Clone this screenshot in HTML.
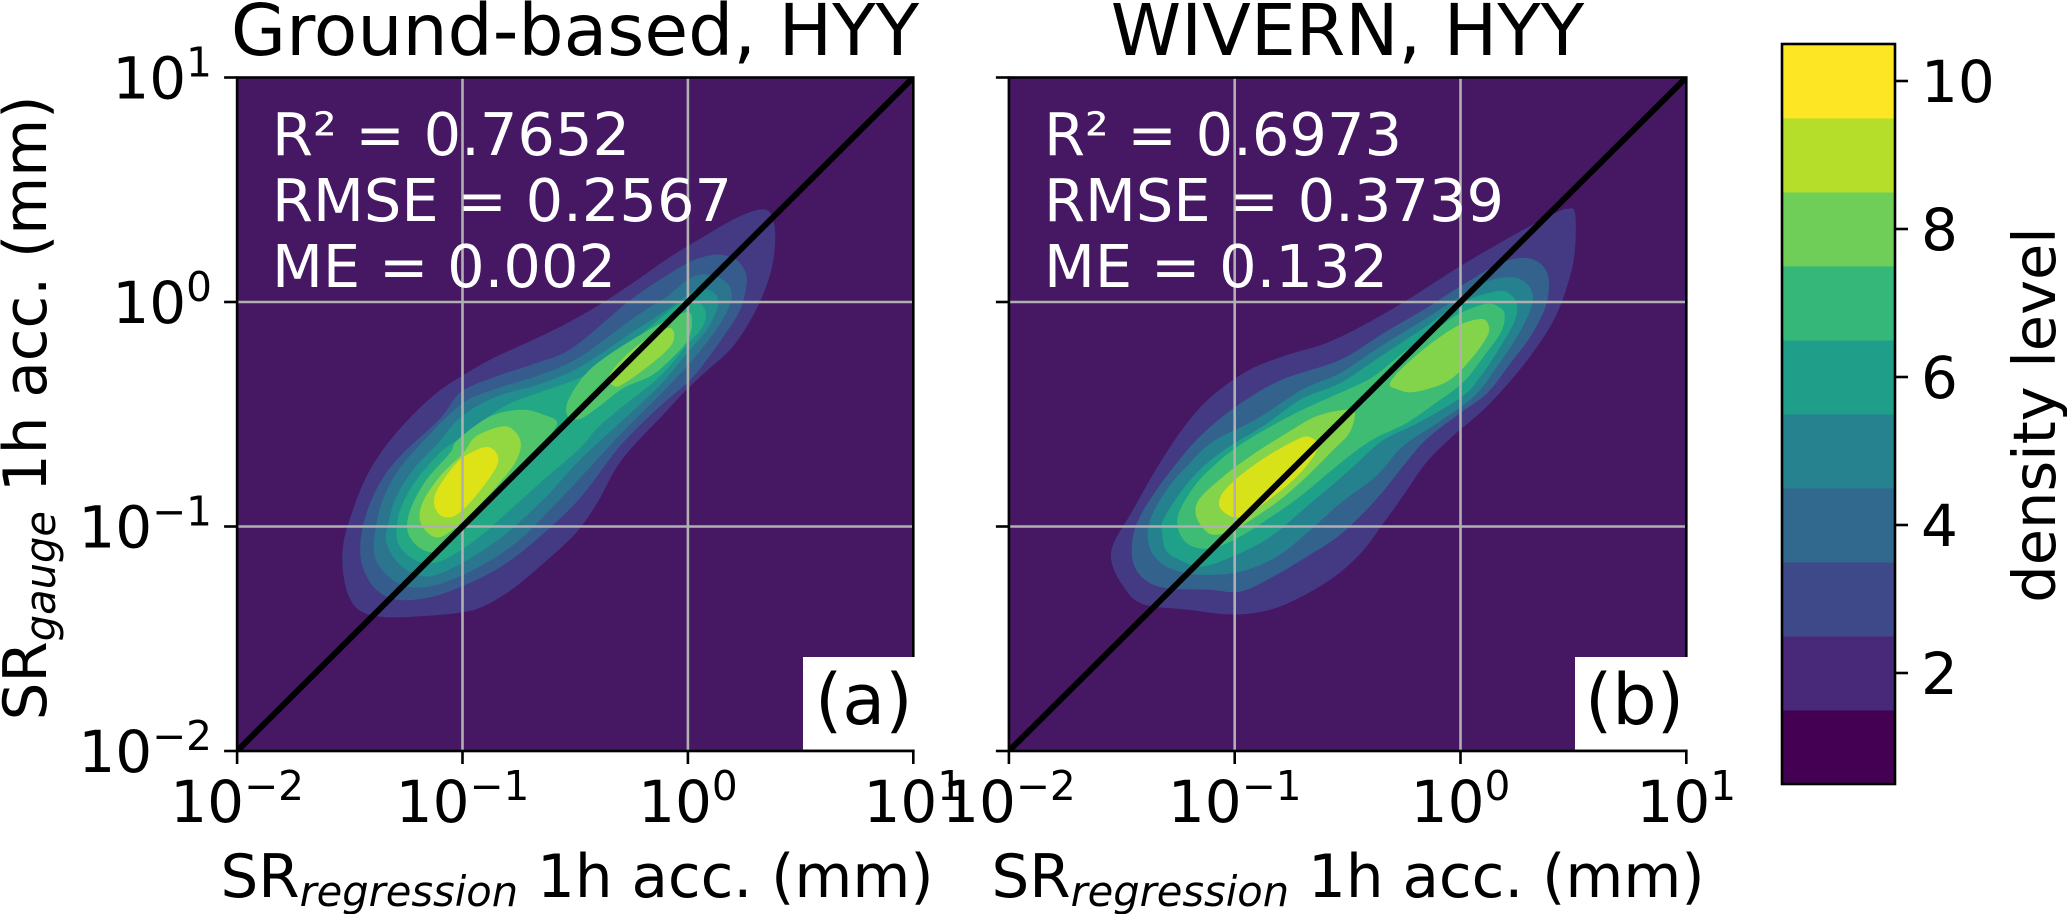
<!DOCTYPE html>
<html lang="en">
<head>
<meta charset="utf-8">
<title>Snowfall rate density comparison</title>
<style>
html,body{margin:0;padding:0;background:#fff;width:2067px;height:914px;overflow:hidden}
svg{display:block}
text{font-family:"DejaVu Sans","Liberation Sans",sans-serif;fill:#000}
</style>
</head>
<body>
<svg id="fig" width="2067" height="914" viewBox="0 0 2067 914" xmlns="http://www.w3.org/2000/svg">
  <defs>
    <clipPath id="clip-a"><rect x="237.1" y="77.5" width="676.2" height="673.5"/></clipPath>
    <clipPath id="clip-b"><rect x="1008.9" y="77.5" width="677.4" height="673.5"/></clipPath>
  </defs>
  <g id="panel-a"></g>
  <g id="panel-b"></g>
  <g id="colorbar"></g>

  <text x="575" y="55" font-size="71.2" text-anchor="middle">Ground-based, HYY</text>
  <text x="1347.5" y="55" font-size="71.2" text-anchor="middle">WIVERN, HYY</text>

  <g font-size="59">
    <text x="272" y="155" style="fill:#fff">R² = 0.7652</text>
    <text x="272" y="221" style="fill:#fff">RMSE = 0.2567</text>
    <text x="272" y="287" style="fill:#fff">ME = 0.002</text>
  </g>
  <g font-size="59">
    <text x="1044" y="155" style="fill:#fff">R² = 0.6973</text>
    <text x="1044" y="221" style="fill:#fff">RMSE = 0.3739</text>
    <text x="1044" y="287" style="fill:#fff">ME = 0.132</text>
  </g>

  <rect x="803" y="657" width="112" height="92.5" fill="#fff"/>
  <text x="815" y="724" font-size="70">(a)</text>
  <rect x="1575" y="657" width="113" height="92.5" fill="#fff"/>
  <text x="1585" y="724" font-size="70">(b)</text>

  <text x="577" y="897" font-size="59.5" text-anchor="middle">SR<tspan font-size="41.6" font-style="italic" dy="9">regression</tspan><tspan dy="-9"> 1h acc. (mm)</tspan></text>
  <text x="1348" y="897" font-size="59.5" text-anchor="middle">SR<tspan font-size="41.6" font-style="italic" dy="9">regression</tspan><tspan dy="-9"> 1h acc. (mm)</tspan></text>
  <text transform="translate(46 408) rotate(-90)" font-size="59.5" text-anchor="middle">SR<tspan font-size="41.6" font-style="italic" dy="9">gauge</tspan><tspan dy="-9"> 1h acc. (mm)</tspan></text>
  <text transform="translate(2055 415) rotate(-90)" font-size="59" text-anchor="middle">density level</text>
</svg>

<script>
// Axis decades (log10 of mm)
const axisDecades = [-2, -1, 0, 1];
const xTickExponents = ["−2", "−1", "0", "1"];
const yTickExponents = ["−2", "−1", "0", "1"];
const oneToOneLine = [-2, 1];
const gridDecades = [-1, 0];

// Colorbar data
const densityTicks = [2, 4, 6, 8, 10];
const densityBins = [1, 2, 3, 4, 5, 6, 7, 8, 9, 10];

// Panel (a) density contours, as [log10 regression, log10 gauge]
const groundLevel1 = [[.342,.412],[.382,.352],[.385,.233],[.358,.100],[.295,-.049],[.200,-.198],[.089,-.302],[-.006,-.391],[-.117,-.510],[-.244,-.643],[-.323,-.747],[-.403,-.896],[-.498,-1.030],[-.640,-1.163],[-.783,-1.282],[-.910,-1.357],[-1.005,-1.383],[-1.163,-1.398],[-1.338,-1.404],[-1.448,-1.379],[-1.504,-1.312],[-1.531,-1.193],[-1.528,-1.074],[-1.496,-.955],[-1.433,-.792],[-1.353,-.658],[-1.242,-.525],[-1.116,-.406],[-1.005,-.331],[-.878,-.257],[-.719,-.183],[-.561,-.108],[-.403,-.019],[-.244,.085],[-.086,.196],[.073,.293],[.231,.382]];
const groundLevel2 = [[.143,.211],[.217,.186],[.259,.122],[.254,.040],[.225,-.049],[.158,-.153],[.084,-.257],[.003,-.354],[-.130,-.470],[-.300,-.640],[-.479,-.874],[-.657,-1.045],[-.805,-1.163],[-.953,-1.245],[-1.130,-1.312],[-1.285,-1.327],[-1.382,-1.282],[-1.441,-1.186],[-1.453,-1.074],[-1.426,-.941],[-1.367,-.807],[-1.278,-.688],[-1.10,-.52],[-1.005,-.40],[-.846,-.33],[-.672,-.272],[-.513,-.205],[-.271,-.004],[-.123,.100],[0,.174],[.070,.201]];
const groundLevel3 = [[.143,.107],[.188,.062],[.191,.003],[.158,-.071],[.099,-.160],[.003,-.279],[-.130,-.420],[-.300,-.590],[-.479,-.785],[-.598,-.911],[-.746,-1.059],[-.923,-1.178],[-1.115,-1.260],[-1.249,-1.267],[-1.337,-1.215],[-1.389,-1.134],[-1.389,-1.030],[-1.359,-.896],[-1.293,-.762],[-1.189,-.636],[-1.005,-.455],[-.846,-.385],[-.656,-.325],[-.48,-.245],[-.241,-.071],[-.093,.025],[0,.100],[.070,.123]];
const groundLevel4 = [[.099,.052],[.132,.018],[.129,-.034],[.084,-.123],[.003,-.220],[-.123,-.370],[-.260,-.500],[-.479,-.703],[-.627,-.866],[-.805,-1.030],[-.953,-1.134],[-1.115,-1.215],[-1.204,-1.215],[-1.285,-1.163],[-1.337,-1.074],[-1.330,-.985],[-1.293,-.866],[-1.219,-.747],[-1.115,-.636],[-1.005,-.51],[-.846,-.42],[-.656,-.365],[-.48,-.29],[-.241,-.131],[-.093,-.034],[0,.033],[.040,.058]];
const groundLevel5 = [[.025,.003],[.062,-.012],[.080,-.056],[.062,-.116],[.003,-.183],[-.123,-.331],[-.271,-.450],[-.400,-.560],[-.479,-.651],[-.657,-.807],[-.805,-.941],[-.923,-1.045],[-1.041,-1.126],[-1.130,-1.163],[-1.212,-1.149],[-1.278,-1.089],[-1.293,-1.015],[-1.271,-.911],[-1.204,-.792],[-1.101,-.673],[-1.012,-.606],[-.815,-.465],[-.624,-.391],[-.466,-.331],[-.307,-.227],[-.149,-.094],[-.04,-.01]];
const groundLevel6Low = [[-.735,-.480],[-.640,-.502],[-.580,-.539],[-.640,-.629],[-.716,-.703],[-.834,-.837],[-.953,-.970],[-1.041,-1.059],[-1.115,-1.111],[-1.175,-1.104],[-1.226,-1.059],[-1.246,-1.000],[-1.226,-.911],[-1.160,-.792],[-1.056,-.673],[-1.021,-.614],[-.878,-.510]];
const groundLevel6High = [[-.012,-.046],[.018,-.094],[-.004,-.175],[-.078,-.257],[-.167,-.331],[-.286,-.383],[-.40,-.47],[-.482,-.522],[-.537,-.502],[-.522,-.42],[-.419,-.287],[-.197,-.138]];
const groundLevel7Low = [[-.823,-.554],[-.767,-.577],[-.741,-.636],[-.768,-.718],[-.849,-.822],[-.953,-.933],[-1.034,-1.007],[-1.101,-1.048],[-1.152,-1.030],[-1.189,-.970],[-1.175,-.889],[-1.101,-.777],[-.997,-.673],[-.941,-.599]];
const groundLevel7High = [[-.086,-.116],[-.061,-.141],[-.078,-.198],[-.167,-.279],[-.286,-.364],[-.330,-.373],[-.351,-.331],[-.271,-.235],[-.167,-.153]];
const groundLevel8 = [[-.886,-.646],[-.845,-.681],[-.849,-.733],[-.908,-.822],[-.990,-.918],[-1.049,-.958],[-1.101,-.948],[-1.126,-.896],[-1.108,-.829],[-1.027,-.718],[-.953,-.666]];

// Panel (b) density contours, as [log10 regression, log10 gauge]
const wivernLevel1 = [[.473,.415],[.507,.397],[.507,.233],[.481,.100],[.414,-.079],[.286,-.272],[.117,-.465],[-.036,-.599],[-.154,-.718],[-.256,-.866],[-.341,-.985],[-.442,-1.119],[-.578,-1.238],[-.764,-1.342],[-.900,-1.383],[-1.036,-1.391],[-1.205,-1.371],[-1.408,-1.345],[-1.493,-1.267],[-1.544,-1.163],[-1.536,-1.074],[-1.459,-.941],[-1.341,-.733],[-1.222,-.554],[-1.103,-.421],[-.934,-.302],[-.764,-.235],[-.595,-.183],[-.425,-.101],[-.222,.018],[-.002,.159],[.253,.308],[.422,.397]];
const wivernLevel2 = [[.266,.196],[.340,.181],[.384,.129],[.391,.055],[.372,-.034],[.310,-.153],[.222,-.272],[.118,-.406],[-.002,-.495],[-.154,-.614],[-.256,-.733],[-.375,-.881],[-.533,-1.037],[-.681,-1.134],[-.829,-1.223],[-.976,-1.290],[-1.109,-1.282],[-1.301,-1.275],[-1.397,-1.238],[-1.449,-1.163],[-1.453,-1.059],[-1.419,-.955],[-1.346,-.837],[-1.257,-.718],[-1.154,-.599],[-1.0,-.47],[-.80,-.35],[-.532,-.257],[-.340,-.138],[-.162,-.034],[0,.070],[.162,.166]];
const wivernLevel3 = [[.222,.111],[.281,.092],[.318,.040],[.310,-.034],[.251,-.153],[.162,-.287],[.059,-.421],[-.103,-.539],[-.256,-.643],[-.375,-.777],[-.533,-.896],[-.681,-1.030],[-.814,-1.134],[-.976,-1.201],[-1.154,-1.215],[-1.287,-1.186],[-1.360,-1.126],[-1.386,-1.045],[-1.368,-.955],[-1.301,-.837],[-1.213,-.733],[-1.095,-.621],[-.90,-.52],[-.70,-.39],[-.532,-.316],[-.354,-.198],[-.162,-.079],[0,.025],[.118,.092]];
const wivernLevel4 = [[.162,.048],[.222,.033],[.251,-.019],[.236,-.094],[.177,-.198],[.089,-.331],[.007,-.421],[-.188,-.539],[-.341,-.614],[-.459,-.718],[-.533,-.785],[-.681,-.911],[-.829,-1.037],[-.976,-1.119],[-1.139,-1.178],[-1.227,-1.156],[-1.301,-1.111],[-1.321,-1.030],[-1.316,-.970],[-1.242,-.851],[-1.154,-.747],[-1.035,-.651],[-.87,-.55],[-.70,-.43],[-.532,-.361],[-.354,-.242],[-.162,-.116],[0,-.004]];
const wivernLevel5 = [[.118,-.007],[.177,-.027],[.196,-.064],[.177,-.138],[.103,-.242],[.015,-.354],[-.089,-.435],[-.239,-.539],[-.392,-.614],[-.533,-.718],[-.710,-.866],[-.858,-.970],[-.976,-1.045],[-1.080,-1.092],[-1.161,-1.097],[-1.220,-1.067],[-1.253,-1.000],[-1.242,-.926],[-1.168,-.807],[-1.080,-.718],[-.976,-.636],[-.85,-.56],[-.70,-.48],[-.50,-.39],[-.384,-.331],[-.236,-.212],[-.089,-.108],[0,-.049]];
const wivernLevel6Low = [[-.510,-.480],[-.468,-.495],[-.493,-.584],[-.563,-.658],[-.681,-.777],[-.799,-.881],[-.917,-.963],[-1.006,-1.015],[-1.095,-1.037],[-1.146,-1.000],[-1.173,-.941],[-1.154,-.874],[-1.050,-.777],[-.932,-.688],[-.770,-.584],[-.64,-.51]];
const wivernLevel6High = [[.089,-.076],[.123,-.101],[.118,-.153],[.044,-.257],[-.059,-.354],[-.207,-.401],[-.281,-.388],[-.313,-.366],[-.266,-.302],[-.148,-.198],[-.015,-.108]];
const wivernLevel7 = [[-.680,-.599],[-.632,-.629],[-.651,-.688],[-.725,-.777],[-.829,-.866],[-.947,-.948],[-1.006,-.958],[-1.058,-.926],[-1.069,-.889],[-1.043,-.837],[-.962,-.762],[-.858,-.688],[-.740,-.621]];

const groundRings = [groundLevel1, groundLevel2, groundLevel3, groundLevel4, groundLevel5, groundLevel6Low, groundLevel6High, groundLevel7Low, groundLevel7High, groundLevel8];
const wivernRings = [wivernLevel1, wivernLevel2, wivernLevel3, wivernLevel4, wivernLevel5, wivernLevel6Low, wivernLevel6High, wivernLevel7];

const NS = 'http://www.w3.org/2000/svg';
const groundFills = ['#443a83','#365c8d','#2b758e','#218f8d','#22a884','#50c46a','#50c46a','#93d741','#93d741','#dee318'];
const wivernFills = ['#443a83','#33638d','#26818e','#1fa088','#3fbc73','#84d44b','#84d44b','#d8e219'];
const binFills = ['#440154','#482878','#3e4989','#31688e','#26828e','#1f9e89','#35b779','#6ece58','#b5de2b','#fde725'];

function make(tag, attrs, parent) {
  const node = document.createElementNS(NS, tag);
  for (const key in attrs) node.setAttribute(key, attrs[key]);
  parent.appendChild(node);
  return node;
}

function smoothPath(points, xAxis, yAxis) {
  const p = points.map(v => [xAxis(v[0]), yAxis(v[1])]);
  const n = p.length;
  let d = 'M' + p[0][0].toFixed(2) + ' ' + p[0][1].toFixed(2);
  for (let i = 0; i < n; i++) {
    const a = p[(i - 1 + n) % n], b = p[i], c = p[(i + 1) % n], e = p[(i + 2) % n];
    d += 'C' + (b[0] + (c[0] - a[0]) / 6).toFixed(2) + ' ' + (b[1] + (c[1] - a[1]) / 6).toFixed(2) + ' ' +
         (c[0] - (e[0] - b[0]) / 6).toFixed(2) + ' ' + (c[1] - (e[1] - b[1]) / 6).toFixed(2) + ' ' +
         c[0].toFixed(2) + ' ' + c[1].toFixed(2);
  }
  return d + 'Z';
}

function drawPanel(cfg) {
  const root = document.getElementById(cfg.id);
  const x = v => cfg.left + (v + 2) * cfg.dx;
  const y = v => cfg.bottom - (v + 2) * cfg.dy;
  const bg = make('rect', {x: x(-2), y: y(1), width: x(1) - x(-2), height: y(-2) - y(1), fill: '#461763'}, root);
  
  
  const field = make('g', {'clip-path': 'url(#' + cfg.clip + ')'}, root);
  
  
  cfg.rings.forEach((ring, i) => {
    const shape = make('path', {d: smoothPath(ring, x, y), fill: cfg.fills[i]}, field);
    
    
  });
  gridDecades.forEach(v => {
    const gx = make('line', {x1: x(v), x2: x(v), y1: y(1), y2: y(-2), stroke: '#b0b0b0', 'stroke-width': 2.6}, root);
    
    
    const gy = make('line', {x1: x(-2), x2: x(1), y1: y(v), y2: y(v), stroke: '#b0b0b0', 'stroke-width': 2.6}, root);
    
    
  });
  const diag = make('line', {x1: x(oneToOneLine[0]), y1: y(oneToOneLine[0]), x2: x(oneToOneLine[1]), y2: y(oneToOneLine[1]), stroke: '#000', 'stroke-width': 6, 'clip-path': 'url(#' + cfg.clip + ')'}, root);
  
  
  const frame = make('rect', {x: x(-2), y: y(1), width: x(1) - x(-2), height: y(-2) - y(1), fill: 'none', stroke: '#000', 'stroke-width': 2.6}, root);
  
  
  axisDecades.forEach((v, i) => {
    const tx = make('line', {x1: x(v), x2: x(v), y1: y(-2), y2: y(-2) + 13, stroke: '#000', 'stroke-width': 2.6}, root);
    
    
    const lx = make('text', {x: x(v), y: 822, 'font-size': 58, 'text-anchor': 'middle'}, root);
    
    
    lx.appendChild(document.createTextNode('10'));
    const sx = make('tspan', {'font-size': 40.6, dy: -22}, lx);
    sx.textContent = xTickExponents[i];
    const ty = make('line', {x1: x(-2) - 13, x2: x(-2), y1: y(v), y2: y(v), stroke: '#000', 'stroke-width': 2.6}, root);
    
    
    if (cfg.yLabels) {
      const ly = make('text', {x: 212, y: y(v) + 21, 'font-size': 58, 'text-anchor': 'end'}, root);
      
      
      ly.appendChild(document.createTextNode('10'));
      const sy = make('tspan', {'font-size': 40.6, dy: -22}, ly);
      sy.textContent = yTickExponents[i];
    }
  });
}

drawPanel({id: 'panel-a', prefix: 'panel-a', clip: 'clip-a', left: 237.1, dx: 225.4, bottom: 751, dy: 224.5, rings: groundRings, fills: groundFills, yLabels: true});
drawPanel({id: 'panel-b', prefix: 'panel-b', clip: 'clip-b', left: 1008.9, dx: 225.8, bottom: 751, dy: 224.5, rings: wivernRings, fills: wivernFills, yLabels: false});

(function drawColorbar() {
  const root = document.getElementById('colorbar');
  const left = 1782, right = 1895, top = 44, bottom = 784;
  const y = v => bottom - (v - 0.5) * (bottom - top) / 10;
  densityBins.forEach((v, i) => {
    const cell = make('rect', {x: left, y: y(v + 0.5), width: right - left, height: y(v - 0.5) - y(v + 0.5) + 0.5, fill: binFills[i]}, root);
    
    
  });
  const box = make('rect', {x: left, y: top, width: right - left, height: bottom - top, fill: 'none', stroke: '#000', 'stroke-width': 2.6}, root);
  
  
  densityTicks.forEach(v => {
    const t = make('line', {x1: right, x2: right + 13, y1: y(v), y2: y(v), stroke: '#000', 'stroke-width': 2.6}, root);
    
    
    const l = make('text', {x: 1921, y: y(v) + 21, 'font-size': 58}, root);
    
    
    l.textContent = String(v);
  });
})();
</script>
</body>
</html>
